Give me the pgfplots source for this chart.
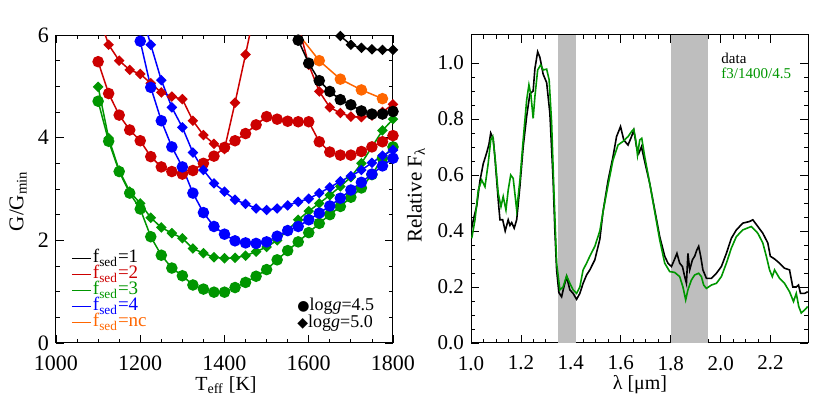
\documentclass[border=0pt]{standalone}
\usepackage{fontspec}
\setmainfont{Liberation Serif}
\newfontfamily\symfont{DejaVu Sans}
\usepackage{pgfplots}
\pgfplotsset{compat=1.18}
\definecolor{cred}{RGB}{204,0,0}
\definecolor{cgreen}{RGB}{0,150,0}
\definecolor{cblue}{RGB}{0,0,255}
\definecolor{corange}{RGB}{255,102,0}
\definecolor{cband}{RGB}{190,190,190}
\pgfplotsset{
  idl/.style={
    scale only axis, anchor=south west,
    width=168.5pt, height=154pt,
    tick align=inside, tick pos=both, xticklabel pos=lower, yticklabel pos=left,
    major tick length=4pt, minor tick length=2pt,
    every tick/.style={black, line width=0.4pt},
    axis line style={line width=0.5pt},
    /pgf/number format/assume math mode=true,
    /pgf/number format/set thousands separator={},
    xticklabel style={yshift=-3pt},
  },
  circ/.style={color=#1, line width=0.75pt, mark=*, mark size=2.5pt, mark options={solid, fill=#1, draw=#1}, forget plot},
  diam/.style={color=#1, line width=0.75pt, mark=square*, mark size=1.5pt, mark options={solid, rotate=45, fill=#1, draw=#1}, forget plot},
}
\begin{document}
\begin{tikzpicture}
\useasboundingbox (0,0) rectangle (415pt,207.5pt);
% ---------------- left panel ----------------
\begin{axis}[idl, at={(28pt,36pt)},
  tick label style={font=\fontsize{11}{12}\selectfont},
  xmin=1000, xmax=1800, ymin=0, ymax=6,
  xtick={1000,1200,1400,1600,1800}, ytick={0,2,4,6},
  minor x tick num=3, minor y tick num=3,
  legend style={at={(axis description cs:0.045,0.30)}, anchor=north west, draw=none, fill=none,
    inner sep=0pt, outer sep=0pt, row sep=0pt, font=\fontsize{9.5}{10}\selectfont,
    nodes={inner sep=0.6pt, text height=5.6pt, text depth=1.2pt}},
  legend cell align=left,
  legend image code/.code={\draw[#1, line width=0.8pt] (0pt,0pt) -- (9.5pt,0pt);},
]
% green circles (fsed=3, logg=4.5)
\addplot[circ=cgreen] coordinates {(1100,4.71) (1125,3.93) (1150,3.34) (1175,2.92) (1200,2.61) (1225,2.07) (1250,1.71) (1275,1.46) (1300,1.31) (1325,1.13) (1350,1.05) (1375,0.99) (1400,0.99) (1425,1.08) (1450,1.18) (1475,1.30) (1500,1.43) (1525,1.62) (1550,1.80) (1575,1.97) (1600,2.15) (1625,2.33) (1650,2.50) (1675,2.66) (1700,2.84) (1725,3.02) (1750,3.28) (1775,3.60) (1800,3.82)};
% green diamonds (fsed=3, logg=5.0)
\addplot[diam=cgreen] coordinates {(1100,4.99) (1125,3.99) (1150,3.36) (1175,2.95) (1200,2.72) (1225,2.44) (1250,2.25) (1275,2.14) (1300,2.04) (1325,1.84) (1350,1.75) (1375,1.67) (1400,1.65) (1425,1.66) (1450,1.70) (1475,1.78) (1500,1.87) (1525,2.00) (1550,2.20) (1575,2.40) (1600,2.57) (1625,2.72) (1650,2.88) (1675,3.05) (1700,3.23) (1725,3.50) (1750,3.82) (1775,4.14) (1800,4.36)};
% red circles (fsed=2, logg=4.5)
\addplot[circ=cred] coordinates {(1100,5.48) (1125,4.86) (1150,4.44) (1175,4.15) (1200,3.94) (1225,3.63) (1250,3.43) (1275,3.34) (1300,3.29) (1325,3.36) (1350,3.50) (1375,3.64) (1400,3.81) (1425,3.94) (1450,4.08) (1475,4.25) (1500,4.41) (1525,4.36) (1550,4.32) (1575,4.31) (1600,4.31) (1625,3.92) (1650,3.72) (1675,3.66) (1700,3.66) (1725,3.73) (1750,3.82) (1775,3.92) (1800,4.04)};
% red diamonds (fsed=2, logg=5.0)
\addplot[diam=cred] coordinates {(1100,6.4) (1125,5.81) (1150,5.50) (1175,5.32) (1200,5.24) (1225,5.06) (1250,4.88) (1275,4.80) (1300,4.75) (1325,4.33) (1350,4.05) (1375,3.88) (1400,3.78) (1425,4.68) (1450,5.62) (1475,6.6)};
\addplot[diam=cred] coordinates {(1575,6.2) (1600,5.42) (1625,4.90) (1650,4.59) (1675,4.48) (1700,4.41) (1725,4.40) (1750,4.43) (1775,4.50) (1800,4.65)};
% blue circles (fsed=4, logg=4.5)
\addplot[circ=cblue] coordinates {(1200,5.88) (1225,4.98) (1250,4.33) (1275,3.82) (1300,3.43) (1325,2.92) (1350,2.54) (1375,2.27) (1400,2.12) (1425,1.99) (1450,1.95) (1475,1.94) (1500,1.97) (1525,2.08) (1550,2.19) (1575,2.27) (1600,2.40) (1625,2.53) (1650,2.67) (1675,2.82) (1700,2.98) (1725,3.13) (1750,3.29) (1775,3.45) (1800,3.60)};
% blue diamonds (fsed=4, logg=5.0)
\addplot[diam=cblue] coordinates {(1200,6.5) (1225,5.81) (1250,5.12) (1275,4.59) (1300,4.20) (1325,3.71) (1350,3.37) (1375,3.11) (1400,2.95) (1425,2.79) (1450,2.71) (1475,2.62) (1500,2.59) (1525,2.62) (1550,2.68) (1575,2.75) (1600,2.81) (1625,2.92) (1650,3.03) (1675,3.15) (1700,3.25) (1725,3.37) (1750,3.51) (1775,3.65) (1800,3.76)};
% black circles (fsed=1, logg=4.5)
\addplot[circ=black] coordinates {(1550,6.6) (1575,5.90) (1600,5.45) (1625,5.11) (1650,4.90) (1675,4.74) (1700,4.64) (1725,4.52) (1750,4.46) (1775,4.46) (1800,4.51)};
% black diamonds (fsed=1, logg=5.0)
\addplot[diam=black] coordinates {(1650,6.3) (1675,5.98) (1700,5.81) (1725,5.75) (1750,5.72) (1775,5.71) (1800,5.71)};
% orange circles (fsed=nc, logg=4.5)
\addplot[circ=corange] coordinates {(1575,6.02) (1625,5.50) (1675,5.14) (1725,4.93) (1775,4.76)};
% legend
\addlegendimage{black}\addlegendentry{\textcolor{black}{f\textsubscript{sed}=1}}
\addlegendimage{cred}\addlegendentry{\textcolor{cred}{f\textsubscript{sed}=2}}
\addlegendimage{cgreen}\addlegendentry{\textcolor{cgreen}{f\textsubscript{sed}=3}}
\addlegendimage{cblue}\addlegendentry{\textcolor{cblue}{f\textsubscript{sed}=4}}
\addlegendimage{corange}\addlegendentry{\textcolor{corange}{f\textsubscript{sed}=nc}}
\node[anchor=west, inner sep=0pt, font=\fontsize{9}{10}\selectfont] at (axis description cs:0.715,0.12) {{\symfont\fontsize{7}{7}\selectfont ●}log\textit{g}=4.5};
\node[anchor=west, inner sep=0pt, font=\fontsize{9}{10}\selectfont] at (axis description cs:0.715,0.065) {{\symfont\fontsize{7}{7}\selectfont ◆}log\textit{g}=5.0};
\end{axis}
% ---------------- right panel ----------------
\begin{axis}[idl, at={(235.5pt,36pt)},
  tick label style={font=\fontsize{10.5}{12}\selectfont},
  xmin=1.0, xmax=2.35, ymin=0, ymax=1.1,
  xtick={1.0,1.2,1.4,1.6,1.8,2.0,2.2}, ytick={0,0.2,0.4,0.6,0.8,1.0},
  minor x tick num=3, minor y tick num=3,
  xticklabel style={/pgf/number format/.cd, fixed, fixed zerofill, precision=1},
  yticklabel style={/pgf/number format/.cd, fixed, fixed zerofill, precision=1},
]
\addplot[fill=cband, draw=none, forget plot] coordinates {(1.35,0) (1.42,0) (1.42,1.1) (1.35,1.1)} -- cycle;
\addplot[fill=cband, draw=none, forget plot] coordinates {(1.80,0) (1.95,0) (1.95,1.1) (1.80,1.1)} -- cycle;
% data
\addplot[black, line width=0.8pt, forget plot] coordinates {
(1.000,0.40) (1.012,0.45) (1.023,0.49) (1.036,0.58) (1.049,0.64) (1.063,0.68) (1.072,0.71) (1.079,0.75) (1.089,0.73) (1.096,0.66) (1.103,0.58) (1.110,0.50) (1.116,0.44) (1.127,0.44) (1.137,0.40) (1.149,0.44) (1.156,0.42) (1.163,0.43) (1.173,0.41) (1.183,0.44) (1.196,0.56) (1.209,0.70) (1.223,0.81) (1.236,0.89) (1.249,0.90) (1.256,0.98) (1.267,1.04) (1.276,1.02) (1.289,0.96) (1.303,0.93) (1.316,0.82) (1.329,0.58) (1.336,0.40) (1.343,0.26) (1.352,0.18) (1.363,0.165) (1.372,0.20) (1.383,0.237) (1.396,0.19) (1.409,0.177) (1.423,0.156) (1.436,0.177) (1.449,0.213) (1.463,0.243) (1.476,0.261) (1.496,0.297) (1.516,0.37) (1.529,0.47) (1.549,0.58) (1.569,0.666) (1.583,0.737) (1.599,0.773) (1.612,0.725) (1.629,0.707) (1.643,0.737) (1.652,0.76) (1.663,0.701) (1.672,0.677) (1.683,0.701) (1.696,0.647) (1.716,0.570) (1.736,0.475) (1.756,0.38) (1.776,0.31) (1.789,0.285) (1.803,0.273) (1.816,0.30) (1.825,0.32) (1.836,0.285) (1.847,0.273) (1.856,0.237) (1.863,0.213) (1.869,0.32) (1.876,0.261) (1.887,0.297) (1.896,0.31) (1.905,0.333) (1.912,0.345) (1.920,0.31) (1.929,0.261) (1.943,0.231) (1.963,0.231) (1.983,0.249) (2.003,0.273) (2.023,0.32) (2.043,0.374) (2.063,0.404) (2.089,0.428) (2.116,0.434) (2.129,0.44) (2.149,0.416) (2.169,0.392) (2.189,0.357) (2.199,0.31) (2.216,0.30) (2.236,0.285) (2.256,0.267) (2.276,0.261) (2.289,0.20) (2.303,0.20) (2.312,0.207) (2.320,0.177) (2.336,0.177) (2.349,0.183)};
% model
\addplot[cgreen, line width=0.8pt, forget plot] coordinates {
(1.003,0.374) (1.016,0.44) (1.029,0.546) (1.043,0.582) (1.056,0.558) (1.069,0.642) (1.079,0.725) (1.087,0.737) (1.096,0.666) (1.109,0.535) (1.120,0.487) (1.129,0.523) (1.140,0.475) (1.149,0.546) (1.159,0.600) (1.169,0.588) (1.183,0.475) (1.196,0.582) (1.209,0.725) (1.223,0.868) (1.232,0.922) (1.240,0.886) (1.249,0.802) (1.256,0.88) (1.267,0.975) (1.279,0.993) (1.289,0.975) (1.303,0.978) (1.313,0.94) (1.323,0.785) (1.332,0.546) (1.343,0.285) (1.356,0.19) (1.369,0.20) (1.383,0.24) (1.396,0.213) (1.409,0.19) (1.423,0.177) (1.436,0.20) (1.449,0.261) (1.463,0.285) (1.476,0.31) (1.496,0.345) (1.516,0.40) (1.529,0.469) (1.549,0.564) (1.569,0.654) (1.589,0.707) (1.609,0.72) (1.629,0.737) (1.643,0.755) (1.652,0.763) (1.660,0.725) (1.667,0.671) (1.676,0.725) (1.684,0.731) (1.696,0.665) (1.716,0.57) (1.736,0.469) (1.756,0.368) (1.776,0.285) (1.796,0.255) (1.816,0.252) (1.836,0.237) (1.849,0.20) (1.860,0.154) (1.869,0.19) (1.883,0.225) (1.896,0.243) (1.912,0.249) (1.923,0.237) (1.932,0.207) (1.943,0.195) (1.963,0.207) (1.983,0.213) (2.003,0.237) (2.023,0.285) (2.043,0.339) (2.063,0.38) (2.089,0.404) (2.123,0.416) (2.149,0.392) (2.169,0.357) (2.183,0.31) (2.196,0.261) (2.207,0.237) (2.216,0.261) (2.236,0.231) (2.256,0.213) (2.276,0.183) (2.292,0.148) (2.303,0.177) (2.313,0.13) (2.323,0.107) (2.336,0.118) (2.349,0.13)};
\node[anchor=west, inner sep=0pt, font=\fontsize{7.5}{9}\selectfont] at (axis description cs:0.742,0.925) {data};
\node[anchor=west, inner sep=0pt, font=\fontsize{7.5}{9}\selectfont, text=cgreen] at (axis description cs:0.742,0.877) {f3/1400/4.5};
\end{axis}
% axis labels
\node[font=\fontsize{10}{12}\selectfont] at (113pt,15pt) {T\textsubscript{eff} [K]};
\node[font=\fontsize{10.5}{12}\selectfont, rotate=90] at (9pt,107pt) {G/G\textsubscript{min}};
\node[font=\fontsize{10}{12}\selectfont] at (320pt,15pt) {λ [μm]};
\node[font=\fontsize{10.5}{12}\selectfont, rotate=90] at (208pt,110pt) {Relative F\textsubscript{λ}};
\end{tikzpicture}
\end{document}
